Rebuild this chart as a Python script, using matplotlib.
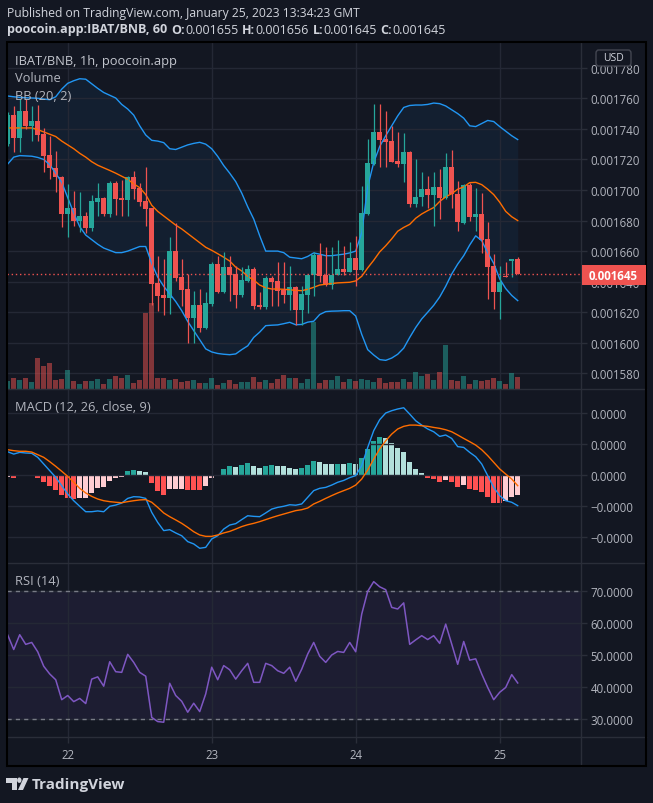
import numpy as np
import matplotlib
matplotlib.use("Agg")
import matplotlib.pyplot as plt
from matplotlib.patches import Rectangle, FancyBboxPatch, Polygon, Circle
from matplotlib.lines import Line2D
from matplotlib.ticker import FuncFormatter
from matplotlib.colors import to_rgba

plt.rcParams['font.family'] = ['Open Sans', 'DejaVu Sans']

# ---- price data, units of 1e-6 BNB, hourly candles ----
opens = [1730.1, 1749.1, 1734.0, 1751.7, 1742.1, 1745.2, 1736.6, 1722.9, 1714.4, 1708.5,
         1684.3, 1688.2, 1679.9, 1683.0, 1675.1, 1692.4, 1694.8, 1684.3, 1704.6, 1694.8,
         1693.5, 1708.5, 1701.5, 1692.8, 1688.2, 1639.1, 1631.3, 1629.5, 1660.1, 1643.1,
         1635.2, 1616.5, 1624.7, 1609.7, 1625.4, 1651.6, 1633.5, 1649.6, 1645.0, 1631.5,
         1640.7, 1648.3, 1624.7, 1623.6, 1642.4, 1640.4, 1634.6, 1631.3, 1636.5, 1621.5,
         1631.3, 1644.6, 1657.5, 1644.6, 1638.0, 1644.6, 1648.3, 1646.6, 1655.5, 1647.9,
         1684.3, 1717.0, 1738.2, 1733.4, 1732.3, 1719.2, 1717.0, 1725.1, 1690.8, 1695.2,
         1700.7, 1696.7, 1702.0, 1694.8, 1715.1, 1697.4, 1678.4, 1703.3, 1682.5, 1684.3,
         1667.9, 1650.3, 1633.5, 1643.9, 1653.8, 1655.0]
highs = [1750.8, 1754.8, 1759.6, 1759.6, 1754.8, 1755.6, 1740.4, 1735.6, 1725.7, 1709.4,
         1704.0, 1699.6, 1698.5, 1685.5, 1697.0, 1704.4, 1695.5, 1706.1, 1706.1, 1706.8,
         1709.4, 1712.4, 1704.6, 1715.0, 1688.2, 1657.0, 1654.8, 1669.0, 1678.5, 1654.8,
         1644.8, 1633.9, 1635.2, 1633.0, 1652.7, 1657.0, 1659.6, 1657.0, 1650.5, 1649.4,
         1650.9, 1649.4, 1633.0, 1643.9, 1643.9, 1652.7, 1652.7, 1650.0, 1637.4, 1637.4,
         1645.0, 1659.2, 1665.3, 1662.5, 1662.5, 1667.3, 1663.6, 1665.8, 1670.1, 1702.8,
         1733.4, 1756.3, 1756.3, 1751.7, 1742.1, 1737.7, 1737.1, 1725.7, 1720.3, 1711.6,
         1709.4, 1712.0, 1713.7, 1724.0, 1726.2, 1706.1, 1703.9, 1704.6, 1701.0, 1697.8,
         1678.8, 1658.1, 1650.5, 1652.7, 1654.8, 1656.0]
lows = [1728.5, 1725.0, 1724.7, 1740.0, 1732.3, 1732.3, 1712.0, 1707.2, 1698.5, 1675.6,
        1669.5, 1676.7, 1672.3, 1671.9, 1673.0, 1683.0, 1683.2, 1682.5, 1683.6, 1683.2,
        1683.2, 1694.1, 1689.7, 1676.7, 1625.0, 1621.0, 1618.4, 1618.8, 1640.2, 1624.0,
        1599.7, 1599.7, 1606.8, 1609.0, 1624.0, 1632.6, 1632.4, 1627.6, 1623.0, 1629.8,
        1639.6, 1622.1, 1622.1, 1622.1, 1624.3, 1624.3, 1626.0, 1621.5, 1611.6, 1611.6,
        1619.3, 1630.8, 1639.6, 1637.4, 1635.0, 1644.6, 1644.6, 1646.1, 1636.9, 1647.2,
        1683.9, 1716.4, 1714.8, 1714.8, 1718.1, 1714.8, 1705.5, 1688.7, 1688.7, 1689.3,
        1688.0, 1676.7, 1681.0, 1694.1, 1688.0, 1673.4, 1677.7, 1680.0, 1673.4, 1658.8,
        1628.7, 1622.1, 1615.6, 1642.9, 1642.9, 1645.0]
closes = [1749.1, 1734.0, 1751.7, 1742.1, 1745.2, 1736.2, 1722.5, 1714.2, 1708.3, 1684.3,
          1688.2, 1679.9, 1683.0, 1675.1, 1692.8, 1695.0, 1684.3, 1704.6, 1694.1, 1693.5,
          1708.5, 1700.7, 1692.4, 1687.6, 1638.7, 1630.8, 1629.5, 1660.1, 1642.4, 1634.6,
          1616.5, 1624.7, 1609.7, 1626.0, 1651.6, 1633.5, 1649.6, 1644.6, 1631.5, 1641.1,
          1648.3, 1624.3, 1623.6, 1642.4, 1640.0, 1634.1, 1631.3, 1636.5, 1621.5, 1631.9,
          1644.6, 1657.5, 1643.9, 1638.0, 1644.6, 1648.3, 1646.6, 1655.5, 1647.9, 1685.0,
          1717.7, 1738.2, 1733.0, 1731.6, 1718.5, 1717.0, 1725.1, 1690.8, 1695.6, 1700.7,
          1696.7, 1702.0, 1694.8, 1715.1, 1697.4, 1678.8, 1703.3, 1682.1, 1684.3, 1667.5,
          1649.8, 1633.5, 1640.0, 1643.3, 1654.8, 1645.0]
volume = [24, 33, 27, 33, 21, 93, 69, 78, 27, 30, 57, 24, 15, 24, 24, 30, 15, 30, 39, 33,
          42, 18, 27, 228, 258, 33, 33, 27, 30, 21, 24, 27, 18, 18, 33, 12, 18, 27, 15, 21,
          21, 36, 21, 27, 18, 30, 42, 33, 33, 18, 30, 200, 18, 27, 27, 39, 21, 30, 24, 30,
          27, 21, 33, 18, 21, 21, 30, 21, 51, 39, 45, 27, 51, 132, 27, 24, 39, 15, 27, 24,
          27, 33, 24, 15, 48, 36]

# Bollinger bands (20, 2)
bb_upper = [1761.5, 1761.0, 1760.6, 1760.4, 1760.2, 1760.0, 1759.5, 1759.1, 1761.0, 1766.0,
            1769.8, 1771.5, 1772.8, 1772.5, 1769.5, 1766.5, 1763.8, 1762.0, 1760.2, 1756.0,
            1753.0, 1749.0, 1742.0, 1736.0, 1732.5, 1732.0, 1731.0, 1727.0, 1726.5, 1728.0,
            1729.5, 1730.5, 1731.2, 1730.0, 1727.0, 1722.0, 1716.0, 1711.0, 1705.5, 1698.0,
            1689.0, 1681.0, 1670.0, 1660.0, 1660.0, 1660.0, 1659.0, 1656.0, 1655.5, 1655.0,
            1656.5, 1658.8, 1658.0, 1657.0, 1657.0, 1657.5, 1658.0, 1658.8, 1660.0, 1672.0,
            1702.0, 1718.0, 1728.5, 1735.5, 1742.0, 1748.5, 1754.0, 1755.3, 1755.6, 1755.6,
            1756.0, 1756.9, 1756.5, 1755.0, 1752.5, 1750.0, 1747.0, 1742.0, 1741.5, 1743.5,
            1745.5, 1744.8, 1741.5, 1738.5, 1735.5, 1733.0]
bb_mid = [1740.6, 1740.6, 1740.6, 1740.6, 1740.6, 1739.5, 1738.0, 1736.5, 1735.0, 1732.0,
          1729.5, 1727.0, 1724.0, 1721.5, 1718.5, 1716.2, 1714.5, 1712.8, 1711.0, 1709.0,
          1707.0, 1704.0, 1701.5, 1697.0, 1690.0, 1686.0, 1683.0, 1680.0, 1677.0, 1674.5,
          1671.5, 1668.5, 1665.5, 1662.5, 1660.5, 1658.3, 1656.0, 1653.5, 1649.5, 1647.0,
          1643.5, 1641.0, 1637.8, 1636.0, 1635.2, 1635.2, 1635.0, 1634.7, 1634.3, 1634.1,
          1635.0, 1636.3, 1637.8, 1638.3, 1638.8, 1639.2, 1639.4, 1639.6, 1640.5, 1643.5,
          1649.0, 1654.0, 1659.5, 1663.5, 1668.0, 1673.0, 1675.5, 1677.5, 1681.5, 1684.3,
          1686.5, 1688.5, 1692.5, 1695.5, 1697.6, 1700.5, 1702.0, 1704.8, 1705.0, 1703.5,
          1700.5, 1697.0, 1692.0, 1686.0, 1682.5, 1680.0]
bb_lower = [1717.0, 1721.5, 1722.5, 1722.3, 1722.1, 1721.3, 1720.0, 1716.5, 1711.0, 1705.0,
            1695.0, 1685.0, 1676.0, 1670.5, 1667.5, 1664.5, 1662.0, 1660.5, 1659.0, 1659.0,
            1660.0, 1661.5, 1663.0, 1663.0, 1652.0, 1643.0, 1637.0, 1632.0, 1627.0, 1621.0,
            1614.0, 1608.0, 1602.0, 1596.0, 1594.0, 1593.0, 1592.5, 1592.2, 1592.7, 1595.5,
            1598.0, 1603.5, 1607.0, 1611.2, 1611.5, 1611.7, 1612.5, 1613.4, 1611.8, 1612.0,
            1613.5, 1614.1, 1618.5, 1620.4, 1620.7, 1620.8, 1621.0, 1621.0, 1617.5, 1605.5,
            1595.5, 1592.0, 1589.0, 1588.5, 1590.0, 1592.5, 1596.5, 1603.5, 1610.0, 1615.6,
            1620.0, 1624.5, 1630.0, 1637.0, 1645.0, 1651.5, 1657.0, 1664.0, 1670.0, 1666.8,
            1659.0, 1652.0, 1641.8, 1635.5, 1631.0, 1627.6]

# MACD (12, 26, close, 9), units of 1e-6
macd_line = [1.48, 1.33, 1.44, 1.40, 1.38, 1.12, 0.69, 0.26, -0.17, -0.71,
             -1.25, -1.68, -2.04, -2.39, -2.39, -2.34, -2.39, -2.04, -1.96, -1.83,
             -1.53, -1.42, -1.44, -1.53, -2.43, -3.08, -3.61, -3.55, -3.76, -3.94,
             -4.32, -4.47, -4.75, -4.69, -4.15, -3.94, -3.51, -3.25, -3.16, -2.90,
             -2.65, -2.69, -2.71, -2.47, -2.22, -2.11, -2.04, -1.94, -1.97, -1.89,
             -1.46, -1.03, -0.88, -0.82, -0.67, -0.49, -0.37, -0.19, -0.06, 0.58,
             1.76, 2.84, 3.55, 3.98, 4.13, 4.24, 4.32, 3.91, 3.48, 3.20,
             2.95, 2.77, 2.47, 2.56, 2.34, 1.81, 1.76, 1.44, 1.16, 0.69,
             -0.06, -0.82, -1.35, -1.68, -1.78, -2.00]
signal_line = [1.61, 1.55, 1.51, 1.51, 1.46, 1.29, 1.12, 0.84, 0.54, 0.22,
               -0.11, -0.49, -0.88, -1.18, -1.40, -1.57, -1.68, -1.74, -1.78, -1.81,
               -1.74, -1.68, -1.63, -1.61, -1.78, -2.11, -2.47, -2.71, -2.92, -3.14,
               -3.40, -3.68, -3.89, -3.98, -3.98, -3.89, -3.76, -3.66, -3.51, -3.35,
               -3.23, -3.14, -3.03, -2.90, -2.77, -2.65, -2.54, -2.43, -2.32, -2.26,
               -2.15, -1.89, -1.72, -1.53, -1.35, -1.18, -1.03, -0.88, -0.67, -0.28,
               0.30, 1.01, 1.66, 2.19, 2.62, 2.95, 3.12, 3.20, 3.20, 3.16,
               3.12, 3.05, 2.99, 2.90, 2.77, 2.56, 2.34, 2.13, 1.91, 1.61,
               1.23, 0.80, 0.37, 0.04, -0.28, -0.71]
histogram = [-0.13, -0.22, -0.09, -0.09, -0.08, -0.24, -0.45, -0.71, -0.97, -1.31,
             -1.53, -1.55, -1.53, -1.51, -1.20, -0.86, -0.77, -0.39, -0.22, -0.15,
             0.26, 0.30, 0.22, 0.15, -0.52, -1.03, -1.29, -0.92, -0.91, -0.90,
             -0.98, -1.00, -1.01, -0.71, -0.22, -0.04, 0.37, 0.56, 0.49, 0.62,
             0.75, 0.54, 0.45, 0.56, 0.62, 0.56, 0.54, 0.45, 0.37, 0.43,
             0.62, 0.88, 0.82, 0.69, 0.69, 0.70, 0.66, 0.75, 0.69, 1.08,
             1.66, 2.19, 2.41, 2.37, 2.04, 1.72, 1.46, 0.84, 0.37, 0.11,
             -0.19, -0.28, -0.45, -0.34, -0.49, -0.77, -0.67, -0.92, -0.97, -1.10,
             -1.46, -1.83, -1.83, -1.72, -1.42, -1.31]

# RSI (14)
rsi = [56.2, 51.7, 56.3, 53.3, 53.9, 51.0, 46.5, 44.1, 42.3, 36.1,
       37.4, 35.5, 36.5, 34.9, 42.5, 43.2, 40.3, 47.9, 44.8, 44.6,
       50.2, 47.7, 44.6, 43.4, 30.6, 29.3, 29.1, 41.2, 37.4, 35.6,
       32.2, 35.0, 32.4, 37.9, 46.2, 42.3, 46.7, 45.4, 42.5, 45.1,
       47.4, 41.5, 41.5, 47.4, 46.7, 45.1, 44.3, 46.2, 41.8, 45.6,
       50.3, 53.9, 49.6, 47.7, 50.0, 51.1, 50.8, 53.9, 51.0, 62.7,
       69.8, 72.8, 71.2, 70.3, 64.8, 64.3, 66.2, 53.3, 54.7, 56.0,
       54.8, 56.0, 53.6, 59.6, 53.4, 47.1, 54.2, 48.4, 48.8, 44.1,
       39.9, 36.1, 38.4, 39.9, 43.9, 41.3]

day_labels = ['22', '23', '24', '25']
day_index = [10, 34, 58, 82]      # candle index at 00:00 of each day
price_ticks = [1580, 1600, 1620, 1640, 1660, 1680, 1700, 1720, 1740, 1760, 1780]
macd_ticks = [-4, -2, 0, 2, 4]
rsi_ticks = [30, 40, 50, 60, 70]

# ---------------------------------------------------------------
W, H = 653, 804
BG = '#131722'
GRID = '#242835'
SEP = '#2a2e39'
TXT = '#b2b5be'
HEAD = '#d1d4dc'
UP = '#26a69a'
DOWN = '#ef5350'
BLUE = '#2196f3'
ORANGE = '#ff6d00'
XLIM = (-0.12, 95.55)

E = 1e-6
o = np.array(opens) * E
h = np.array(highs) * E
l = np.array(lows) * E
c = np.array(closes) * E
x = np.arange(len(o))
up = c >= o

fig = plt.figure(figsize=(W / 100, H / 100), dpi=100, facecolor=BG)


def rect(x0, y0, x1, y1):
    return [x0 / W, 1 - y1 / H, (x1 - x0) / W, (y1 - y0) / H]


def fx(v):
    return v / W


def fy(v):
    return 1 - v / H


def style_axis(ax, ticks, fmt):
    ax.set_xlim(XLIM)
    ax.set_facecolor(BG)
    ax.set_yticks(ticks)
    ax.yaxis.tick_right()
    ax.yaxis.set_major_formatter(FuncFormatter(fmt))
    ax.set_xticks(day_index)
    ax.tick_params(axis='x', length=0, labelbottom=False)
    ax.tick_params(axis='y', length=4, width=1, color=SEP, labelcolor=TXT,
                   labelsize=8.3, pad=3)
    ax.grid(True, color=GRID, lw=1)
    for s in ax.spines.values():
        s.set_visible(False)


def neg(s):
    return s.replace('-', '\u2212')


# ---- main price pane ----
main_box = rect(7, 43, 581, 390)
ylim_main = (1569.75 * E, 1796.85 * E)
ax_main = fig.add_axes(main_box)
style_axis(ax_main, [t * E for t in price_ticks], lambda v, p: f'{v:.6f}')
ax_main.set_ylim(ylim_main)
ax_main.fill_between(x, np.array(bb_upper) * E, np.array(bb_lower) * E,
                     color=BLUE, alpha=0.07, lw=0)

ax_vol = fig.add_axes(main_box)
ax_vol.patch.set_alpha(0)
ax_vol.axis('off')
ax_vol.set_xlim(XLIM)
ax_vol.set_ylim(0, max(volume) * 4.03)
vcol = [to_rgba(UP if u else DOWN, 0.5) for u in up]
ax_vol.bar(x, volume, width=0.75, color=vcol, lw=0)

ax_c = fig.add_axes(main_box)
ax_c.patch.set_alpha(0)
ax_c.axis('off')
ax_c.set_xlim(XLIM)
ax_c.set_ylim(ylim_main)
ax_c.plot(x, np.array(bb_upper) * E, color=BLUE, lw=1)
ax_c.plot(x, np.array(bb_lower) * E, color=BLUE, lw=1)
ax_c.plot(x, np.array(bb_mid) * E, color=ORANGE, lw=1)
ccol = [UP if u else DOWN for u in up]
ax_c.vlines(x, l, h, colors=ccol, lw=0.9)
body_lo = np.minimum(o, c)
body_h = np.maximum(np.abs(c - o), 0.7 * E)
ax_c.bar(x, body_h, bottom=body_lo, width=0.74, color=ccol, lw=0)
ax_c.axhline(c[-1], color=DOWN, lw=1, ls=(0, (1, 2)))

# ---- MACD pane ----
ax_m = fig.add_axes(rect(7, 390, 581, 564))
style_axis(ax_m, [t * E for t in macd_ticks], lambda v, p: neg(f'{v:.4f}'))
ax_m.set_ylim(-5.70 * E, 5.53 * E)
hist = np.array(histogram)
hcol = []
for i, v in enumerate(hist):
    prev = hist[i - 1] if i > 0 else v
    if v >= 0:
        hcol.append('#26a69a' if prev < v else '#b2dfdb')
    else:
        hcol.append('#ffcdd2' if prev < v else '#ff5252')
hcol[0] = '#ffcdd2'
ax_m.bar(x, hist * E, width=0.75, color=hcol, lw=0)
ax_m.plot(x, np.array(macd_line) * E, color=BLUE, lw=1)
ax_m.plot(x, np.array(signal_line) * E, color=ORANGE, lw=1)

# ---- RSI pane ----
ax_r = fig.add_axes(rect(7, 564, 581, 738))
style_axis(ax_r, rsi_ticks, lambda v, p: f'{v:.4f}')
ax_r.set_ylim(24.5, 78.6)
ax_r.axhspan(30, 70, color='#7e57c2', alpha=0.1, lw=0)
ax_r.axhline(70, color='#787b86', lw=1, ls=(0, (3, 3)))
ax_r.axhline(30, color='#787b86', lw=1, ls=(0, (3, 3)))
ax_r.plot(x, rsi, color='#7e57c2', lw=1.1)
ax_r.set_xticks(day_index)
ax_r.set_xticklabels(day_labels)
ax_r.tick_params(axis='x', length=4, width=1, color=SEP, labelcolor=TXT,
                 labelsize=8.3, pad=4, labelbottom=True)

# ---- separators and frame ----
for yy in (390, 564, 738):
    fig.add_artist(Line2D([fx(7), fx(646)], [fy(yy), fy(yy)], color=SEP, lw=1, zorder=3))
fig.add_artist(Line2D([fx(581), fx(581)], [fy(43), fy(767)], color=SEP, lw=1, zorder=3))
fig.add_artist(Rectangle((fx(7), fy(767)), fx(646) - fx(7), fy(43) - fy(767),
                         transform=fig.transFigure, fill=False, ec='#000000', lw=1.5, zorder=4))

# ---- pane captions ----
fig.text(fx(15), fy(61), 'IBAT/BNB, 1h, poocoin.app', color='#c3c6ce', fontsize=9.3, va='center')
fig.text(fx(15), fy(78), 'Volume', color=TXT, fontsize=9.3, va='center')
fig.text(fx(15), fy(96), 'BB (20, 2)', color=TXT, fontsize=9.3, va='center')
fig.text(fx(15), fy(408), 'MACD (12, 26, close, 9)', color=TXT, fontsize=9.3, va='center')
fig.text(fx(15), fy(582), 'RSI (14)', color=TXT, fontsize=9.3, va='center')

# ---- last price marker and currency box ----
fig.add_artist(Rectangle((fx(582), fy(286)), fx(646) - fx(582), fy(266) - fy(286),
                         transform=fig.transFigure, fc=DOWN, ec='none', zorder=5))
fig.text(fx(589), fy(276), f'{c[-1]:.6f}', color='white', fontsize=8.3,
         fontweight='bold', va='center', zorder=6)
fig.add_artist(FancyBboxPatch((fx(596), fy(67)), fx(631) - fx(596), fy(51) - fy(67),
                              boxstyle='round,pad=0,rounding_size=0.004',
                              transform=fig.transFigure, fc=BG, ec='#434651', lw=1, zorder=5))
fig.text(fx(613.5), fy(58.5), 'USD', color=HEAD, fontsize=7.5, ha='center', va='center', zorder=6)

# ---- header ----
fig.text(fx(7), fy(13), 'Published on TradingView.com, January 25, 2023 13:34:23 GMT',
         color=HEAD, fontsize=8.7, va='center')
renderer = fig.canvas.get_renderer()
parts = [('poocoin.app:IBAT/BNB, 60', 'bold', 4), ('O:', 'bold', 0), ('0.001655', 'normal', 4),
         ('H:', 'bold', 0), ('0.001656', 'normal', 4), ('L:', 'bold', 0),
         ('0.001645', 'normal', 4), ('C:', 'bold', 0), ('0.001645', 'normal', 0)]
xp = 7
for s, wgt, gap in parts:
    t = fig.text(fx(xp), fy(30), s, color=HEAD, fontsize=9.0, fontweight=wgt, va='center')
    bb = t.get_window_extent(renderer)
    xp = bb.x1 + gap

# ---- footer logo ----
fig.add_artist(Polygon([(fx(5.5), fy(779)), (fx(16.5), fy(779)), (fx(16.5), fy(791)),
                        (fx(11.8), fy(791)), (fx(11.8), fy(783.5)), (fx(5.5), fy(783.5))],
                       closed=True, transform=fig.transFigure, fc=HEAD, ec='none'))
fig.add_artist(Circle((fx(19.3), fy(781.2)), 2.2 / W, transform=fig.transFigure, fc=HEAD, ec='none'))
fig.add_artist(Polygon([(fx(23.5), fy(779)), (fx(28.5), fy(779)), (fx(23.0), fy(791)),
                        (fx(18.0), fy(791))], closed=True, transform=fig.transFigure,
                       fc=HEAD, ec='none'))
fig.text(fx(32), fy(785), 'TradingView', color=HEAD, fontsize=11, fontweight='bold', va='center')

fig.savefig('out.png', dpi=100, facecolor=BG)
